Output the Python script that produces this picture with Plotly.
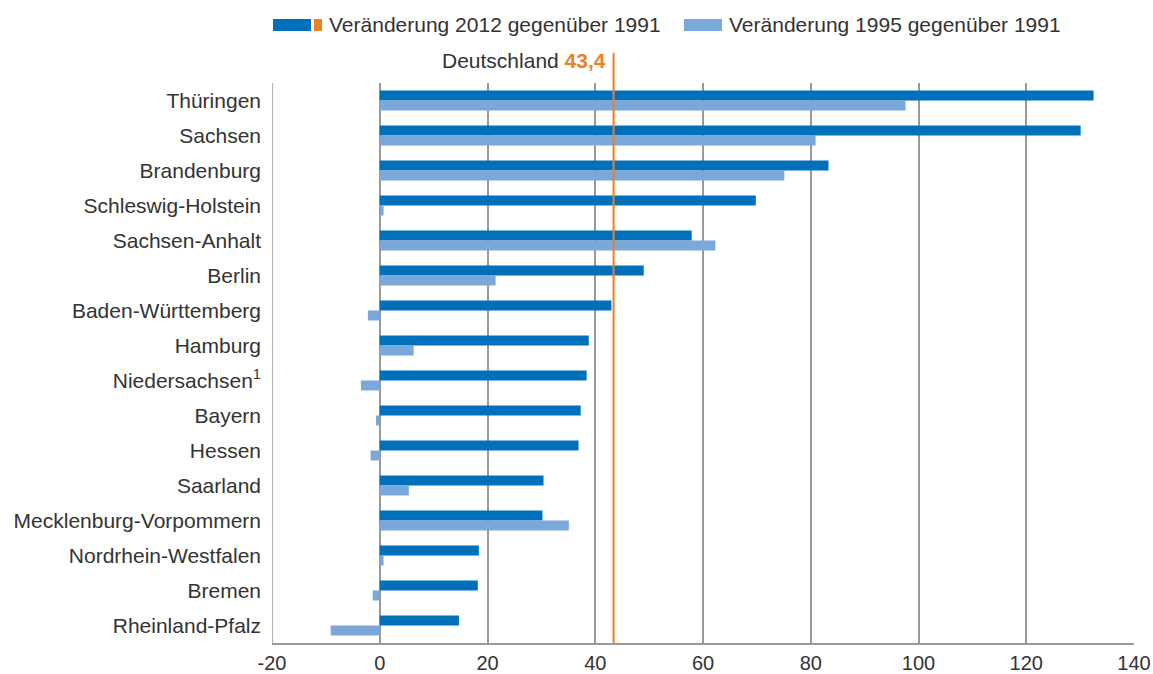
import plotly.graph_objects as go

# Bundesländer, sorted by change 2012 vs 1991
laender = [
    "Thüringen", "Sachsen", "Brandenburg", "Schleswig-Holstein", "Sachsen-Anhalt",
    "Berlin", "Baden-Württemberg", "Hamburg", "Niedersachsen<sup>1</sup>", "Bayern",
    "Hessen", "Saarland", "Mecklenburg-Vorpommern", "Nordrhein-Westfalen", "Bremen",
    "Rheinland-Pfalz",
]
veraenderung_2012 = [132.5, 130.1, 83.3, 69.8, 57.9, 49.0, 43.0, 38.8, 38.4, 37.3,
                     36.9, 30.4, 30.2, 18.4, 18.2, 14.7]
veraenderung_1995 = [97.6, 80.9, 75.1, 0.7, 62.3, 21.5, -2.2, 6.3, -3.5, -0.7,
                     -1.7, 5.4, 35.1, 0.7, -1.3, -9.1]
deutschland = 43.4
x_ticks = [-20, 0, 20, 40, 60, 80, 100, 120, 140]

DARK = "#0070BA"
LIGHT = "#7BA7DA"
ORANGE = "#EE7F22"
TEXT = "#333333"
GRID = "#999999"
FONT = "Liberation Sans, Arial, sans-serif"

fig = go.Figure()
fig.add_trace(go.Bar(y=laender, x=veraenderung_2012, orientation="h",
                     marker=dict(color=DARK, line=dict(width=0)),
                     name="Veränderung 2012 gegenüber 1991", showlegend=False))
fig.add_trace(go.Bar(y=laender, x=veraenderung_1995, orientation="h",
                     marker=dict(color=LIGHT, line=dict(width=0)),
                     name="Veränderung 1995 gegenüber 1991", showlegend=False))

# Plot area in pixels: x 272..1134, y 83..643
W, H = 862.0, 560.0
def px(v):
    return (v - 272) / W
def py(v):
    return (643 - v) / H

# Germany average line with its label
fig.add_shape(type="line", xref="x", yref="paper", x0=deutschland, x1=deutschland,
              y0=0, y1=py(53), line=dict(color=ORANGE, width=2))
fig.add_annotation(xref="x", yref="paper", x=deutschland, y=py(61), xanchor="right",
                   yanchor="middle", xshift=-6, showarrow=False,
                   text=f"Deutschland <span style='color:{ORANGE}'><b>{str(deutschland).replace('.', ',')}</b></span>",
                   font=dict(family=FONT, size=21, color=TEXT))

# Hand-built legend
fig.add_shape(type="rect", xref="paper", yref="paper", x0=px(273), x1=px(311),
              y0=py(31), y1=py(19), fillcolor=DARK, line=dict(width=0))
fig.add_shape(type="rect", xref="paper", yref="paper", x0=px(314), x1=px(322),
              y0=py(31), y1=py(19), fillcolor=ORANGE, line=dict(width=0))
fig.add_annotation(xref="paper", yref="paper", x=px(327), y=py(25), xanchor="left",
                   yanchor="middle", showarrow=False, text="Veränderung 2012 gegenüber 1991",
                   font=dict(family=FONT, size=21, color=TEXT))
fig.add_shape(type="rect", xref="paper", yref="paper", x0=px(684), x1=px(722),
              y0=py(31), y1=py(19), fillcolor=LIGHT, line=dict(width=0))
fig.add_annotation(xref="paper", yref="paper", x=px(727), y=py(25), xanchor="left",
                   yanchor="middle", showarrow=False, text="Veränderung 1995 gegenüber 1991",
                   font=dict(family=FONT, size=21, color=TEXT))

fig.update_layout(
    width=1153, height=674,
    margin=dict(l=272, r=19, t=83, b=31),
    paper_bgcolor="white", plot_bgcolor="white",
    barmode="group", bargap=0.43, bargroupgap=0,
    font=dict(family=FONT, size=21, color=TEXT),
    xaxis=dict(range=[-20, 140], tickvals=x_ticks, ticktext=[str(t) for t in x_ticks],
               showgrid=True, gridcolor=GRID, gridwidth=1.5,
               zeroline=True, zerolinecolor=GRID, zerolinewidth=1.5,
               showline=True, linecolor=GRID, linewidth=1.5,
               ticks="", ticklabelstandoff=1, automargin=False,
               tickfont=dict(size=20, color=TEXT), fixedrange=True),
    yaxis=dict(autorange="reversed", showgrid=False, showline=False,
               ticks="", ticklabelstandoff=10, automargin=False,
               tickfont=dict(size=21, color=TEXT), fixedrange=True),
)
# left border of the plot area at -20
fig.add_shape(type="line", xref="x", yref="paper", x0=-20, x1=-20, y0=0, y1=1,
              line=dict(color=GRID, width=1.5))

fig.write_html("out.html")
